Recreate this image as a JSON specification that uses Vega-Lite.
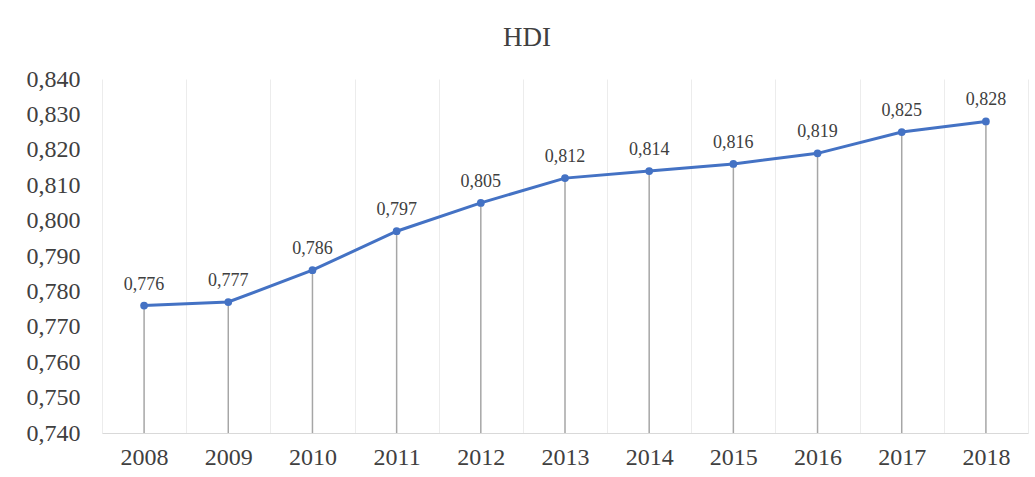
{
  "$schema": "https://vega.github.io/schema/vega-lite/v6.json",
  "width": 926,
  "height": 354,
  "autosize": "none",
  "padding": {"left": 102, "top": 79, "right": 7, "bottom": 44},
  "background": "white",
  "title": {"text": "HDI", "font": "Liberation Serif", "fontSize": 27, "fontWeight": "normal", "color": "#404040", "anchor": "middle", "frame": "bounds", "offset": 15},
  "config": {
    "locale": {"number": {"decimal": ",", "thousands": ".", "grouping": [3], "currency": ["", ""]}},
    "view": {"stroke": null},
    "font": "Liberation Serif"
  },
  "data": {"values": [
    {"year": "2008", "hdi": 0.776},
    {"year": "2009", "hdi": 0.777},
    {"year": "2010", "hdi": 0.786},
    {"year": "2011", "hdi": 0.797},
    {"year": "2012", "hdi": 0.805},
    {"year": "2013", "hdi": 0.812},
    {"year": "2014", "hdi": 0.814},
    {"year": "2015", "hdi": 0.816},
    {"year": "2016", "hdi": 0.819},
    {"year": "2017", "hdi": 0.825},
    {"year": "2018", "hdi": 0.828}
  ]},
  "encoding": {
    "x": {"field": "year", "type": "ordinal", "title": null,
      "scale": {"paddingInner": 0, "paddingOuter": 0},
      "axis": {"labelAngle": 0, "labelFont": "Liberation Serif", "labelFontSize": 24, "labelColor": "#404040", "labelPadding": 12, "ticks": false, "tickBand": "extent", "grid": true, "gridColor": "#ececec", "gridWidth": 1, "domainColor": "#d9d9d9", "domainWidth": 1}},
    "y": {"field": "hdi", "type": "quantitative", "title": null,
      "scale": {"domain": [0.74, 0.84], "nice": false, "zero": false},
      "axis": {"values": [0.74, 0.75, 0.76, 0.77, 0.78, 0.79, 0.8, 0.81, 0.82, 0.83, 0.84], "format": ".3f", "grid": false, "domain": false, "ticks": false, "labelFont": "Liberation Serif", "labelFontSize": 24, "labelColor": "#404040", "labelPadding": 22}}
  },
  "layer": [
    {
      "mark": {"type": "rule", "color": "#a6a6a6", "strokeWidth": 1.5},
      "encoding": {
        "y2": {"datum": 0.74}
      }
    },
    {
      "mark": {"type": "line", "color": "#4472C4", "strokeWidth": 3}
    },
    {
      "mark": {"type": "point", "filled": true, "color": "#4472C4", "size": 60, "opacity": 1}
    },
    {
      "mark": {"type": "text", "dy": -21, "fontSize": 18, "color": "#404040", "font": "Liberation Serif"},
      "encoding": {
        "text": {"field": "hdi", "type": "quantitative", "format": ".3f"}
      }
    }
  ]
}
